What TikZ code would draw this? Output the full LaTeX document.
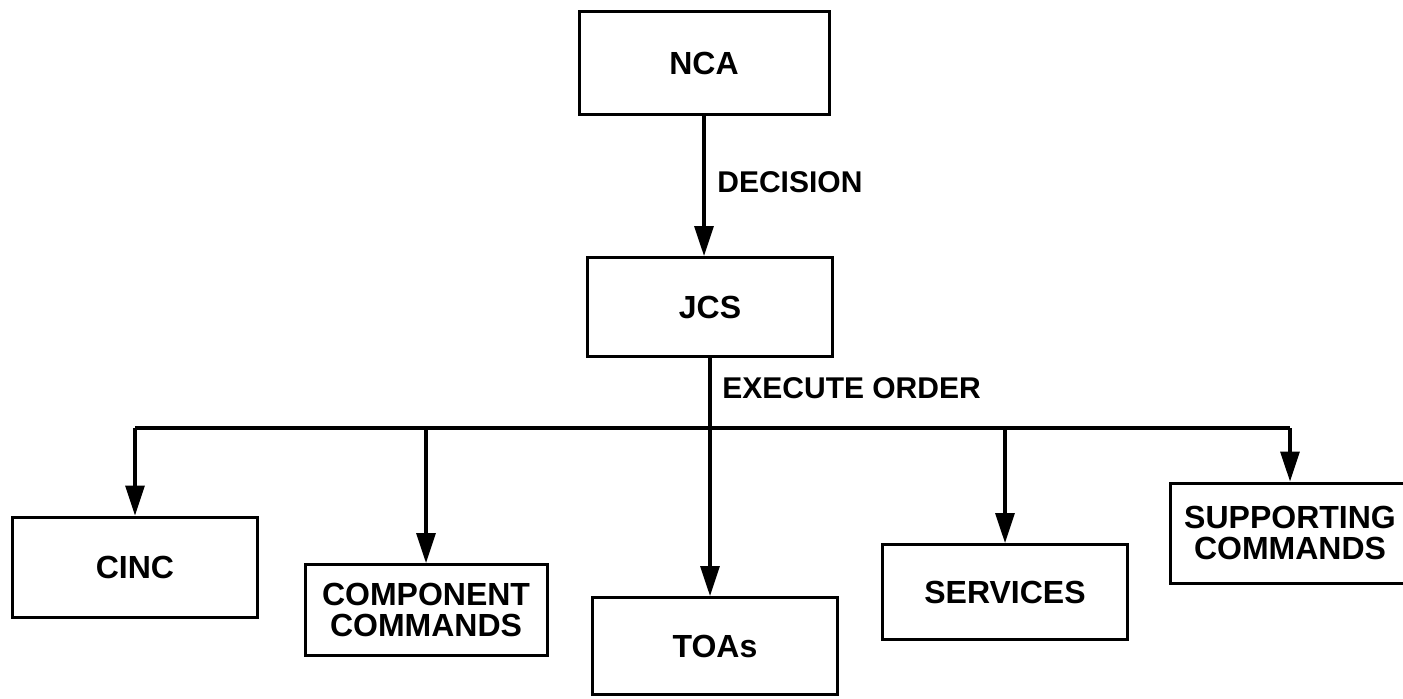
\documentclass[tikz,border=0pt]{standalone}
\usepackage{fontspec}
\setmainfont{Liberation Sans}
\usetikzlibrary{arrows.meta}
\tikzset{
  orgbox/.style={draw, line width=1.5pt, minimum width=#1, align=center,
    font=\bfseries\fontsize{16}{15.5}\selectfont, inner sep=0pt},
  orgbox/.default=122.5pt,
  flow/.style={line width=1.6pt, -{Triangle[length=15pt,width=9.5pt]}},
  lbl/.style={font=\bfseries\fontsize{15}{15}\selectfont, anchor=west, inner sep=0pt}
}
\begin{document}
\begin{tikzpicture}[x=0.5pt,y=-0.5pt]
\useasboundingbox (0,0) rectangle (1403,698);
\node[orgbox=125pt, minimum height=51.5pt] (nca) at (704,63) {NCA};
\node[orgbox=122.5pt, minimum height=49.5pt] (jcs) at (710,307) {JCS};
\node[orgbox=122.5pt, minimum height=50pt] (cinc) at (135,567) {CINC};
\node[orgbox=121pt, minimum height=45.5pt] (comp) at (426,610) {COMPONENT\\COMMANDS};
\node[orgbox=122.5pt, minimum height=48.5pt] (toas) at (715,646) {TOAs};
\node[orgbox=122.5pt, minimum height=47.5pt] (serv) at (1005,592) {SERVICES};
\node[orgbox=120pt, minimum height=50pt] (supp) at (1290,533) {SUPPORTING\\COMMANDS};
\coordinate (busL) at (cinc.north |- 0,428);
\coordinate (busR) at (supp.north |- 0,428);
\draw[flow] (nca.south) -- (nca.south |- jcs.north);
\node[lbl] (dec) at (717,182) {DECISION};
\draw[flow] (jcs.south) -- (jcs.south |- toas.north);
\node[lbl] (exe) at (722,388) {EXECUTE ORDER};
\draw[line width=1.6pt] (busL) -- (busR);
\draw[flow] (busL) -- (cinc.north);
\draw[flow] (comp.north |- busL) -- (comp.north);
\draw[flow] (serv.north |- busL) -- (serv.north);
\draw[flow] (busR) -- (supp.north);
\end{tikzpicture}
\end{document}
